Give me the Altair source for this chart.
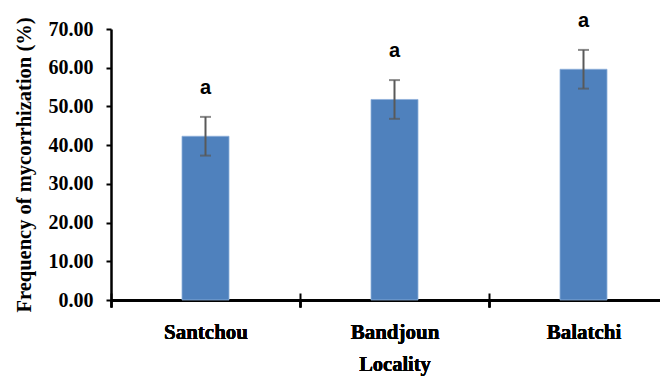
import altair as alt
import pandas as pd

localities = ["Santchou", "Bandjoun", "Balatchi"]
means = [42.3, 51.8, 59.6]
errors = [5.0, 5.0, 5.0]
letters = ["a", "a", "a"]

df = pd.DataFrame({
    "Locality": localities,
    "mean": means,
    "err": errors,
    "letter": letters,
})
df["lo"] = df["mean"] - df["err"]
df["hi"] = df["mean"] + df["err"]

SERIF = "Liberation Serif"
YTITLE = "Frequency of mycorrhization (%)"

# the category axis runs past the right edge of the picture, as in the reference
xscale = alt.Scale(domain=localities, range=[0, 567], paddingInner=0, paddingOuter=0)
yscale = alt.Scale(domain=[0, 70])

x_axis = alt.Axis(title="Locality", labelAngle=0, tickBand="extent", orient="bottom",
                  tickSize=7, tickWidth=2, tickColor="black",
                  domainColor="black", domainWidth=2.5,
                  labelFont=SERIF, labelFontSize=21, labelFontWeight="bold",
                  labelColor="black", labelPadding=14,
                  titleFont=SERIF, titleFontSize=20.5, titleFontWeight="bold",
                  titleColor="black", titlePadding=12)
x_axis_up = alt.Axis(title="", labels=False, domain=False, tickBand="extent", orient="bottom",
                     offset=-7, tickSize=7, tickWidth=2, tickColor="black")
y_axis = alt.Axis(title=YTITLE, format=".2f",
                  values=[0, 10, 20, 30, 40, 50, 60, 70], grid=False,
                  tickSize=5, tickWidth=2, tickColor="black",
                  domainColor="black", domainWidth=2.5,
                  labelFont=SERIF, labelFontSize=20, labelFontWeight="bold",
                  labelColor="black", labelPadding=13,
                  titleFont=SERIF, titleFontSize=20.5, titleFontWeight="bold",
                  titleColor="black", titlePadding=14)


def X(axis=x_axis):
    return alt.X("Locality:N", scale=xscale, sort=localities, axis=axis)


def Y(field):
    return alt.Y(f"{field}:Q", scale=yscale, axis=y_axis, title=YTITLE)


bars = alt.Chart(df).mark_bar(size=47, color="#4F81BD", stroke="#8EB0DA", strokeWidth=0.8).encode(
    x=X(), y=Y("mean"))
rule = alt.Chart(df).mark_rule(color="#595959", strokeWidth=2).encode(
    x=X(x_axis_up), y=Y("lo"), y2="hi:Q")
cap_lo = alt.Chart(df).mark_tick(color="#595959", size=11, thickness=2, orient="horizontal").encode(
    x=X(), y=Y("lo"))
cap_hi = alt.Chart(df).mark_tick(color="#595959", size=11, thickness=2, orient="horizontal").encode(
    x=X(), y=Y("hi"))
text = alt.Chart(df).mark_text(font="Liberation Sans", fontWeight="bold", fontSize=20,
                               color="black", dy=-23, baseline="alphabetic").encode(
    x=X(), y=Y("hi"), text="letter:N")

chart = alt.layer(bars, rule, cap_lo, cap_hi, text).resolve_axis(x="independent").properties(
    width=549, height=271,
    autosize=alt.AutoSizeParams(type="none"),
    padding={"left": 103, "top": 21, "right": 0, "bottom": 76},
).configure_view(stroke=None, clip=False).configure_axis(grid=False)

chart.save("out.html", embed_options={"renderer": "svg", "actions": False})
